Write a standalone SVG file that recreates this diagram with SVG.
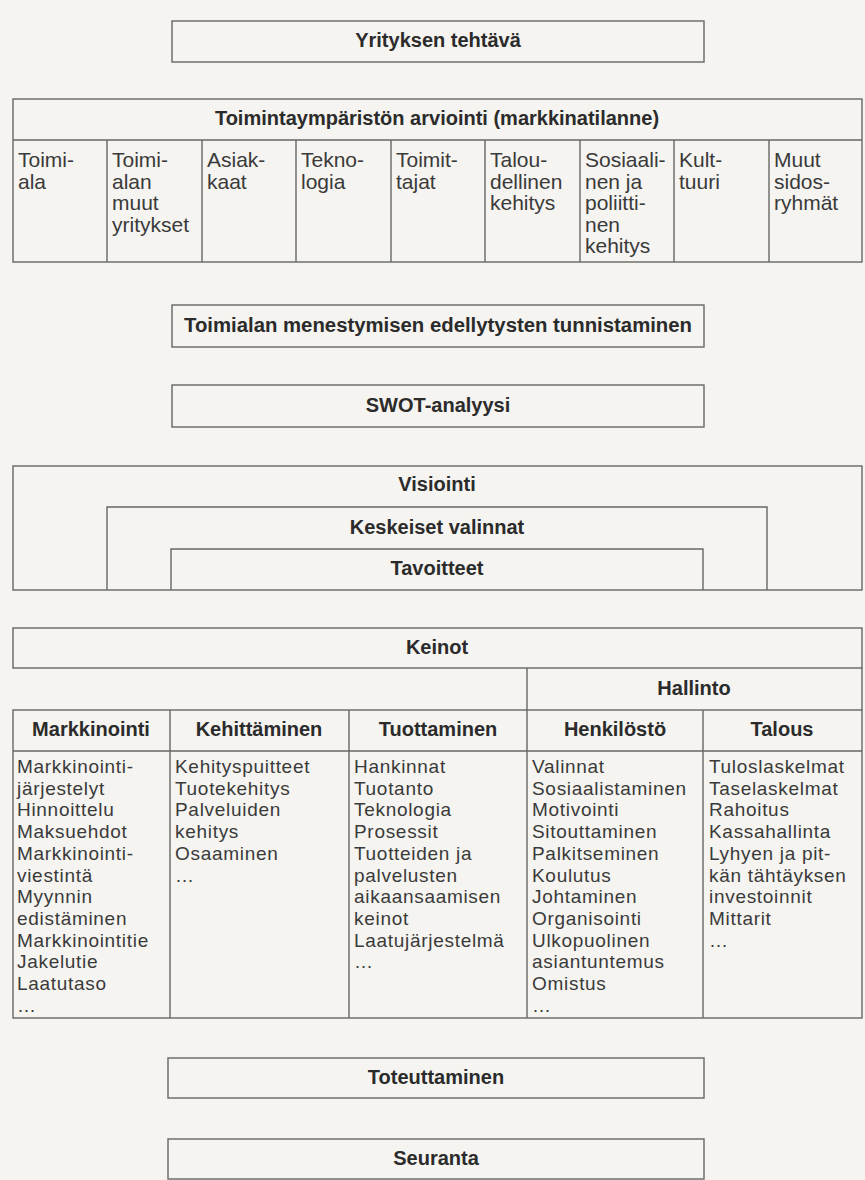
<svg xmlns="http://www.w3.org/2000/svg" width="865" height="1180" viewBox="0 0 865 1180">
<style>
.bg{fill:#f5f4f0}
.box{fill:none;stroke:#666;stroke-width:1.4}
.ln{fill:none;stroke:#666;stroke-width:1.4}
.h{font-family:"Liberation Sans",Arial,sans-serif;font-weight:bold;font-size:20px;fill:#2b2b2b;text-anchor:middle}
.c{font-family:"Liberation Sans",Arial,sans-serif;font-size:21px;fill:#3a3a3a}
.b{font-family:"Liberation Sans",Arial,sans-serif;font-size:19px;letter-spacing:0.7px;fill:#3a3a3a}
</style>
<rect class="bg" x="0" y="0" width="865" height="1180"/>

<g id="yrityksen-tehtava">
<rect class="box" x="172" y="21" width="532" height="41"/>
<text class="h" x="438" y="47">Yrityksen tehtävä</text>
</g>

<g id="toimintaymparisto">
<rect class="box" x="13" y="99" width="849" height="163"/>
<line class="ln" x1="13" y1="140" x2="862" y2="140"/>
<line class="ln" x1="107" y1="140" x2="107" y2="262"/>
<line class="ln" x1="202" y1="140" x2="202" y2="262"/>
<line class="ln" x1="296" y1="140" x2="296" y2="262"/>
<line class="ln" x1="391" y1="140" x2="391" y2="262"/>
<line class="ln" x1="485" y1="140" x2="485" y2="262"/>
<line class="ln" x1="580" y1="140" x2="580" y2="262"/>
<line class="ln" x1="674" y1="140" x2="674" y2="262"/>
<line class="ln" x1="769" y1="140" x2="769" y2="262"/>
<text class="h" x="437" y="125">Toimintaympäristön arviointi (markkinatilanne)</text>
<text class="c" x="18" y="167">Toimi-<tspan x="18" dy="21.5">ala</tspan></text>
<text class="c" x="112" y="167">Toimi-<tspan x="112" dy="21.5">alan</tspan><tspan x="112" dy="21.5">muut</tspan><tspan x="112" dy="21.5">yritykset</tspan></text>
<text class="c" x="207" y="167">Asiak-<tspan x="207" dy="21.5">kaat</tspan></text>
<text class="c" x="301" y="167">Tekno-<tspan x="301" dy="21.5">logia</tspan></text>
<text class="c" x="396" y="167">Toimit-<tspan x="396" dy="21.5">tajat</tspan></text>
<text class="c" x="490" y="167">Talou-<tspan x="490" dy="21.5">dellinen</tspan><tspan x="490" dy="21.5">kehitys</tspan></text>
<text class="c" x="585" y="167">Sosiaali-<tspan x="585" dy="21.5">nen ja</tspan><tspan x="585" dy="21.5">poliitti-</tspan><tspan x="585" dy="21.5">nen</tspan><tspan x="585" dy="21.5">kehitys</tspan></text>
<text class="c" x="679" y="167">Kult-<tspan x="679" dy="21.5">tuuri</tspan></text>
<text class="c" x="774" y="167">Muut<tspan x="774" dy="21.5">sidos-</tspan><tspan x="774" dy="21.5">ryhmät</tspan></text>
</g>

<g id="toimialan-menestyminen">
<rect class="box" x="172" y="305" width="532" height="42"/>
<text class="h" x="438" y="332" textLength="508" lengthAdjust="spacingAndGlyphs">Toimialan menestymisen edellytysten tunnistaminen</text>
</g>

<g id="swot">
<rect class="box" x="172" y="385" width="532" height="42"/>
<text class="h" x="438" y="412">SWOT-analyysi</text>
</g>

<g id="visiointi">
<rect class="box" x="13" y="466" width="849" height="124"/>
<text class="h" x="437" y="491">Visiointi</text>
</g>
<g id="keskeiset-valinnat">
<polyline class="ln" points="107,590 107,507 767,507 767,590"/>
<text class="h" x="437" y="534">Keskeiset valinnat</text>
</g>
<g id="tavoitteet">
<polyline class="ln" points="171,590 171,549 703,549 703,590"/>
<text class="h" x="437" y="575">Tavoitteet</text>
</g>

<g id="keinot">
<rect class="box" x="13" y="628" width="849" height="40"/>
<text class="h" x="437" y="654">Keinot</text>
</g>
<g id="hallinto">
<polyline class="ln" points="527,668 527,710"/>
<polyline class="ln" points="862,668 862,710"/>
<text class="h" x="694" y="695">Hallinto</text>
</g>

<g id="keinot-taulukko">
<rect class="box" x="13" y="710" width="849" height="308"/>
<line class="ln" x1="13" y1="751" x2="862" y2="751"/>
<line class="ln" x1="170" y1="710" x2="170" y2="1018"/>
<line class="ln" x1="349" y1="710" x2="349" y2="1018"/>
<line class="ln" x1="527" y1="710" x2="527" y2="1018"/>
<line class="ln" x1="703" y1="710" x2="703" y2="1018"/>
</g>

<g id="markkinointi">
<text class="h" x="91" y="736">Markkinointi</text>
<text class="b" x="17" y="773">Markkinointi-<tspan x="17" dy="21.7">järjestelyt</tspan><tspan x="17" dy="21.7">Hinnoittelu</tspan><tspan x="17" dy="21.7">Maksuehdot</tspan><tspan x="17" dy="21.7">Markkinointi-</tspan><tspan x="17" dy="21.7">viestintä</tspan><tspan x="17" dy="21.7">Myynnin</tspan><tspan x="17" dy="21.7">edistäminen</tspan><tspan x="17" dy="21.7">Markkinointitie</tspan><tspan x="17" dy="21.7">Jakelutie</tspan><tspan x="17" dy="21.7">Laatutaso</tspan><tspan x="17" dy="21.7">…</tspan></text>
</g>

<g id="kehittaminen">
<text class="h" x="259" y="736">Kehittäminen</text>
<text class="b" x="175" y="773">Kehityspuitteet<tspan x="175" dy="21.7">Tuotekehitys</tspan><tspan x="175" dy="21.7">Palveluiden</tspan><tspan x="175" dy="21.7">kehitys</tspan><tspan x="175" dy="21.7">Osaaminen</tspan><tspan x="175" dy="21.7">…</tspan></text>
</g>

<g id="tuottaminen">
<text class="h" x="438" y="736">Tuottaminen</text>
<text class="b" x="354" y="773">Hankinnat<tspan x="354" dy="21.7">Tuotanto</tspan><tspan x="354" dy="21.7">Teknologia</tspan><tspan x="354" dy="21.7">Prosessit</tspan><tspan x="354" dy="21.7">Tuotteiden ja</tspan><tspan x="354" dy="21.7">palvelusten</tspan><tspan x="354" dy="21.7">aikaansaamisen</tspan><tspan x="354" dy="21.7">keinot</tspan><tspan x="354" dy="21.7">Laatujärjestelmä</tspan><tspan x="354" dy="21.7">…</tspan></text>
</g>

<g id="henkilosto">
<text class="h" x="615" y="736">Henkilöstö</text>
<text class="b" x="532" y="773">Valinnat<tspan x="532" dy="21.7">Sosiaalistaminen</tspan><tspan x="532" dy="21.7">Motivointi</tspan><tspan x="532" dy="21.7">Sitouttaminen</tspan><tspan x="532" dy="21.7">Palkitseminen</tspan><tspan x="532" dy="21.7">Koulutus</tspan><tspan x="532" dy="21.7">Johtaminen</tspan><tspan x="532" dy="21.7">Organisointi</tspan><tspan x="532" dy="21.7">Ulkopuolinen</tspan><tspan x="532" dy="21.7">asiantuntemus</tspan><tspan x="532" dy="21.7">Omistus</tspan><tspan x="532" dy="21.7">…</tspan></text>
</g>

<g id="talous">
<text class="h" x="782" y="736">Talous</text>
<text class="b" x="709" y="773">Tuloslaskelmat<tspan x="709" dy="21.7">Taselaskelmat</tspan><tspan x="709" dy="21.7">Rahoitus</tspan><tspan x="709" dy="21.7">Kassahallinta</tspan><tspan x="709" dy="21.7">Lyhyen ja pit-</tspan><tspan x="709" dy="21.7">kän tähtäyksen</tspan><tspan x="709" dy="21.7">investoinnit</tspan><tspan x="709" dy="21.7">Mittarit</tspan><tspan x="709" dy="21.7">…</tspan></text>
</g>

<g id="toteuttaminen">
<rect class="box" x="168" y="1058" width="536" height="40"/>
<text class="h" x="436" y="1084">Toteuttaminen</text>
</g>

<g id="seuranta">
<rect class="box" x="168" y="1139" width="536" height="40"/>
<text class="h" x="436" y="1165">Seuranta</text>
</g>

<g id="connectors"></g>
</svg>
